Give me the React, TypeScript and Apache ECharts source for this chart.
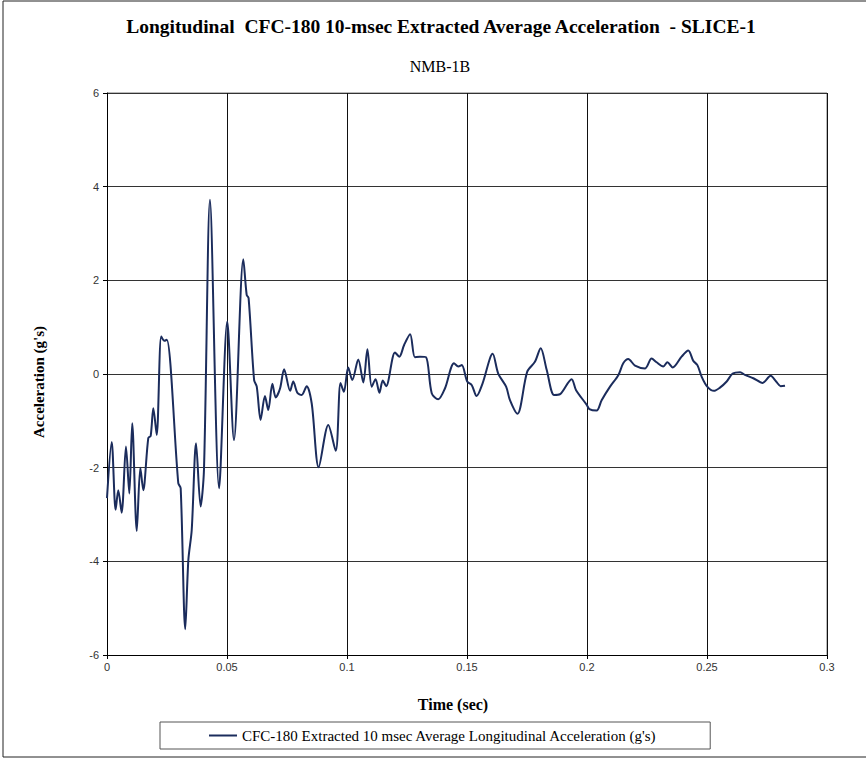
import React, { useEffect, useRef } from "react";
import * as echarts from "echarts";

const timeSec = [
  0, 0.00195, 0.0036, 0.0047, 0.0061, 0.0079, 0.0093, 0.0105, 0.0124, 0.0139,
  0.0151, 0.0172, 0.0182, 0.0193, 0.0207, 0.0226, 0.0239, 0.0249, 0.0297, 0.0307,
  0.0326, 0.0339, 0.0353, 0.0371, 0.039, 0.0404, 0.0429, 0.0467, 0.0501, 0.0529,
  0.0568, 0.0582, 0.059, 0.0613, 0.0624, 0.064, 0.0658, 0.0672, 0.0689, 0.0703,
  0.0721, 0.0738, 0.0763, 0.0776, 0.0793, 0.0811, 0.0832, 0.0853, 0.0882, 0.0922,
  0.0953, 0.0973, 0.0987, 0.1005, 0.1022, 0.1047, 0.1068, 0.1085, 0.1103, 0.1119,
  0.1135, 0.1149, 0.1163, 0.12, 0.1218, 0.1238, 0.1263, 0.1283, 0.1304, 0.1329,
  0.1353, 0.138, 0.1408, 0.1446, 0.1464, 0.1478, 0.1501, 0.152, 0.154, 0.1565,
  0.1607, 0.163, 0.1663, 0.1679, 0.171, 0.1751, 0.1783, 0.1807, 0.1832, 0.1863,
  0.1888, 0.1936, 0.1954, 0.1999, 0.201, 0.204, 0.2061, 0.2096, 0.2131, 0.2151,
  0.2172, 0.22, 0.2242, 0.2269, 0.229, 0.2318, 0.2335, 0.2357, 0.2394, 0.2422,
  0.2443, 0.246, 0.2478, 0.2501, 0.2529, 0.2554, 0.2582, 0.2607, 0.2638, 0.2658,
  0.2693, 0.2732, 0.2765, 0.2788, 0.2807, 0.2825,
];

const accelG = [
  -2.65, -1.45, -2.9, -2.48, -2.96, -1.55, -2.55, -1.05, -3.35, -2.0,
  -2.48, -1.37, -1.32, -0.73, -1.3, 0.8, 0.71, 0.73, -2.33, -2.44,
  -5.45, -3.97, -3.33, -1.48, -2.83, -2.05, 3.72, -2.44, 1.12, -1.41,
  2.45, 1.69, 1.62, -0.13, -0.27, -0.98, -0.47, -0.77, -0.21, -0.5,
  -0.31, 0.1, -0.36, -0.16, -0.4, -0.45, -0.26, -0.63, -1.99, -1.09,
  -1.64, -0.19, -0.38, 0.14, -0.13, 0.31, -0.18, 0.53, -0.27, -0.11,
  -0.4, -0.14, -0.26, 0.46, 0.37, 0.62, 0.85, 0.36, 0.37, 0.36,
  -0.41, -0.54, -0.31, 0.23, 0.16, 0.19, -0.16, -0.24, -0.47, -0.2,
  0.43, 0.01, -0.27, -0.56, -0.85, 0.05, 0.26, 0.55, 0.09, -0.45,
  -0.43, -0.11, -0.34, -0.66, -0.75, -0.78, -0.56, -0.27, -0.02, 0.23,
  0.32, 0.18, 0.12, 0.33, 0.25, 0.16, 0.25, 0.14, 0.37, 0.5,
  0.28, 0.19, -0.06, -0.27, -0.36, -0.29, -0.16, 0.01, 0.04, -0.02,
  -0.09, -0.19, -0.04, -0.16, -0.26, -0.25,
];

const seriesName = "CFC-180 Extracted 10 msec Average Longitudinal Acceleration (g's)";
const titleText = "Longitudinal  CFC-180 10-msec Extracted Average Acceleration  - SLICE-1";
const subtitleText = "NMB-1B";
const xAxisTitle = "Time (sec)";
const yAxisTitle = "Acceleration (g's)";

export default function App() {
  const ref = useRef<HTMLDivElement>(null);
  useEffect(() => {
    if (!ref.current) return;
    const chart = echarts.init(ref.current, null, { renderer: "svg" });
    const serif = "'Liberation Serif', 'Times New Roman', serif";
    const sans = "'Liberation Sans', Arial, sans-serif";
    chart.setOption({
      animation: false,
      backgroundColor: "#ffffff",
      title: [
        {
          text: titleText,
          left: 436,
          textAlign: "center",
          top: 11,
          textStyle: { fontFamily: serif, fontWeight: "bold", fontSize: 19.5, color: "#000" },
        },
        {
          text: subtitleText,
          left: 435,
          textAlign: "center",
          top: 53,
          textStyle: { fontFamily: serif, fontWeight: "normal", fontSize: 16, color: "#000" },
        },
      ],
      grid: { left: 107, top: 93, width: 720, height: 562, containLabel: false },
      legend: {
        left: 160,
        top: 722,
        itemWidth: 28,
        itemHeight: 2,
        itemGap: 0,
        icon: "rect",
        borderColor: "#555",
        borderWidth: 1,
        borderRadius: 0,
        padding: [6, 53, 6, 49],
        textStyle: { fontFamily: serif, fontSize: 15, color: "#000" },
        data: [seriesName],
      },
      xAxis: {
        type: "value",
        min: 0,
        max: 0.3,
        interval: 0.05,
        axisLine: { onZero: false, lineStyle: { color: "#000", width: 1 } },
        axisTick: { show: true, inside: false, length: 4, lineStyle: { color: "#000" } },
        axisLabel: {
          fontFamily: sans,
          fontSize: 11,
          color: "#333",
          margin: 6,
          formatter: (v: number) => String(parseFloat(v.toFixed(2))),
        },
        splitLine: { show: true, lineStyle: { color: "#111", width: 1 } },
      },
      yAxis: {
        type: "value",
        min: -6,
        max: 6,
        interval: 2,
        axisLine: { show: true, onZero: false, lineStyle: { color: "#000", width: 1 } },
        axisTick: { show: true, inside: false, length: 4, lineStyle: { color: "#000" } },
        axisLabel: { fontFamily: sans, fontSize: 11, color: "#333", margin: 8 },
        splitLine: { show: true, lineStyle: { color: "#333", width: 1 } },
      },
      graphic: [
        {
          type: "rect",
          shape: { x: 3, y: 1, width: 900, height: 756 },
          style: { fill: "none", stroke: "#222", lineWidth: 1 },
          silent: true,
        },
        {
          type: "line",
          shape: { x1: 107, y1: 93, x2: 827, y2: 93 },
          style: { stroke: "#777", lineWidth: 1 },
          silent: true,
        },
        {
          type: "line",
          shape: { x1: 827, y1: 93, x2: 827, y2: 655 },
          style: { stroke: "#777", lineWidth: 1 },
          silent: true,
        },
        {
          type: "text",
          x: 453,
          y: 704,
          silent: true,
          style: {
            text: xAxisTitle,
            fontFamily: serif,
            fontWeight: "bold",
            fontSize: 16,
            fill: "#000",
            align: "center",
            verticalAlign: "middle",
          },
        },
        {
          type: "text",
          x: 39,
          y: 382,
          rotation: Math.PI / 2,
          silent: true,
          style: {
            text: yAxisTitle,
            fontFamily: serif,
            fontWeight: "bold",
            fontSize: 15,
            fill: "#000",
            align: "center",
            verticalAlign: "middle",
          },
        },
      ],
      series: [
        {
          name: seriesName,
          type: "line",
          data: timeSec.map((t, i) => [t, accelG[i]]),
          smooth: 0.3,
          showSymbol: false,
          lineStyle: { color: "#1b2c5c", width: 2 },
          itemStyle: { color: "#1b2c5c" },
        },
      ],
    });
    return () => chart.dispose();
  }, []);
  return (
    <div
      ref={ref}
      style={{ position: "fixed", left: 0, top: 0, width: 866, height: 759, background: "#fff" }}
    />
  );
}
